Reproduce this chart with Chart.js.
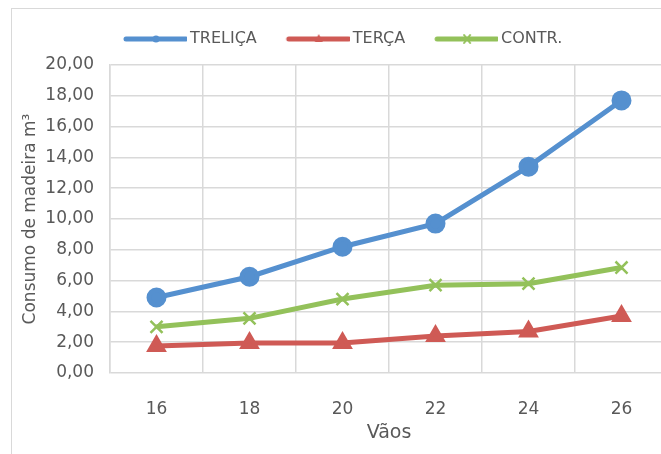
<!DOCTYPE html>
<html lang="pt-br">
<head>
    <meta charset="UTF-8">
    <title>Consumo de madeira</title>
    <script src="https://cdn.jsdelivr.net/npm/chart.js"></script>
    <style>
        body {
            margin: 0;
            background-color: #ffffff;
            overflow: hidden;
            width: 661px;
            height: 454px;
        }
        .frame {
            position: absolute;
            left: 11px;
            top: 8px;
            width: 800px;
            height: 600px;
            border: 1px solid #d9d9d9;
        }
        .chart-box {
            position: absolute;
            left: 0;
            top: 0;
            width: 700px;
            height: 454px;
        }
    </style>
</head>
<body>
    <div class="frame"></div>
    <div class="chart-box">
        <canvas id="lineChart"></canvas>
    </div>

    <script>
        const vaos = ['16', '18', '20', '22', '24', '26'];
        const trelica = [4.9, 6.25, 8.2, 9.7, 13.4, 17.7];
        const terca = [1.75, 1.95, 1.95, 2.4, 2.7, 3.7];
        const contr = [3.0, 3.55, 4.8, 5.7, 5.8, 6.85];

        const azul = '#5590cf';
        const vermelho = '#cf5a55';
        const verde = '#93c15a';
        const cinza = '#595959';
        const fonte = 'DejaVu Sans';

        // legend symbol: line with a small marker, transparent margin on the left
        function legendIcon(color, shape) {
            const c = document.createElement('canvas');
            c.width = 80;
            c.height = 14;
            const ctx = c.getContext('2d');
            ctx.strokeStyle = color;
            ctx.fillStyle = color;
            ctx.lineWidth = 5;
            ctx.lineCap = 'round';
            ctx.beginPath();
            ctx.moveTo(19, 7);
            ctx.lineTo(79, 7);
            ctx.stroke();
            ctx.lineWidth = 2;
            const cx = 49;
            if (shape === 'circle') {
                ctx.beginPath();
                ctx.arc(cx, 7, 3.5, 0, Math.PI * 2);
                ctx.fill();
            } else if (shape === 'triangle') {
                ctx.beginPath();
                ctx.moveTo(cx, 2);
                ctx.lineTo(cx + 4, 10);
                ctx.lineTo(cx - 4, 10);
                ctx.closePath();
                ctx.fill();
            } else {
                ctx.beginPath();
                ctx.moveTo(cx - 3, 3); ctx.lineTo(cx + 3, 11);
                ctx.moveTo(cx + 3, 3); ctx.lineTo(cx - 3, 11);
                ctx.stroke();
            }
            return c;
        }

        const legendaPos = {
            id: 'legendaPos',
            beforeLayout(chart) {
                const lg = chart.legend;
                if (lg && !lg._ajustado) {
                    const fitOrig = lg.fit;
                    lg.fit = function () {
                        fitOrig.call(this);
                        this.height += 8;
                    };
                    lg._ajustado = true;
                }
            },
            afterLayout(chart) {
                if (chart.legend) chart.legend.left = 94;
            }
        };

        const ctxLine = document.getElementById('lineChart').getContext('2d');
        new Chart(ctxLine, {
            type: 'line',
            data: {
                labels: vaos,
                datasets: [
                    {
                        label: 'TRELIÇA',
                        data: trelica,
                        borderColor: azul,
                        backgroundColor: azul,
                        borderWidth: 5,
                        pointStyle: 'circle',
                        pointRadius: 7.5,
                        legendIcon: legendIcon(azul, 'circle')
                    },
                    {
                        label: 'TERÇA',
                        data: terca,
                        borderColor: vermelho,
                        backgroundColor: vermelho,
                        borderWidth: 5,
                        pointStyle: 'triangle',
                        pointRadius: 7,
                        legendIcon: legendIcon(vermelho, 'triangle')
                    },
                    {
                        label: 'CONTR.',
                        data: contr,
                        borderColor: verde,
                        backgroundColor: verde,
                        borderWidth: 5,
                        pointStyle: 'crossRot',
                        pointRadius: 8.5,
                        pointBorderWidth: 2.5,
                        legendIcon: legendIcon(verde, 'cross')
                    }
                ]
            },
            plugins: [legendaPos],
            options: {
                responsive: true,
                maintainAspectRatio: false,
                animation: false,
                layout: {
                    padding: { top: 13, right: 32, left: 0, bottom: 0 }
                },
                plugins: {
                    tooltip: { enabled: false },
                    legend: {
                        position: 'top',
                        align: 'start',
                        labels: {
                            usePointStyle: true,
                            pointStyleWidth: 70,
                            boxHeight: 14,
                            padding: 18,
                            color: cinza,
                            font: { family: fonte, size: 16 },
                            generateLabels: chart => chart.data.datasets.map((ds, i) => ({
                                text: ds.label,
                                pointStyle: ds.legendIcon,
                                fontColor: cinza,
                                datasetIndex: i,
                                lineWidth: 0,
                                hidden: false
                            }))
                        }
                    }
                },
                scales: {
                    x: {
                        offset: true,
                        grid: { offset: true, color: '#d9d9d9', lineWidth: 1.5, drawTicks: false },
                        border: { display: false },
                        ticks: { color: cinza, padding: 26, font: { family: fonte, size: 17 } },
                        title: {
                            display: true,
                            text: 'Vãos',
                            color: cinza,
                            padding: { top: 0, bottom: 10 },
                            font: { family: fonte, size: 19 }
                        },
                        afterFit: scale => { scale.height = 81; }
                    },
                    y: {
                        min: 0,
                        max: 20,
                        ticks: {
                            stepSize: 2,
                            color: cinza,
                            padding: 16,
                            font: { family: fonte, size: 17 },
                            callback: v => v.toFixed(2).replace('.', ',')
                        },
                        grid: { color: '#d9d9d9', lineWidth: 1.5, drawTicks: false },
                        border: { color: '#d9d9d9', width: 1.5 },
                        title: {
                            display: true,
                            text: 'Consumo de madeira m³',
                            color: cinza,
                            padding: { top: 20, bottom: 0 },
                            font: { family: fonte, size: 17 }
                        },
                        afterFit: scale => { scale.width = 110; }
                    }
                }
            }
        });
    </script>
</body>
</html>
